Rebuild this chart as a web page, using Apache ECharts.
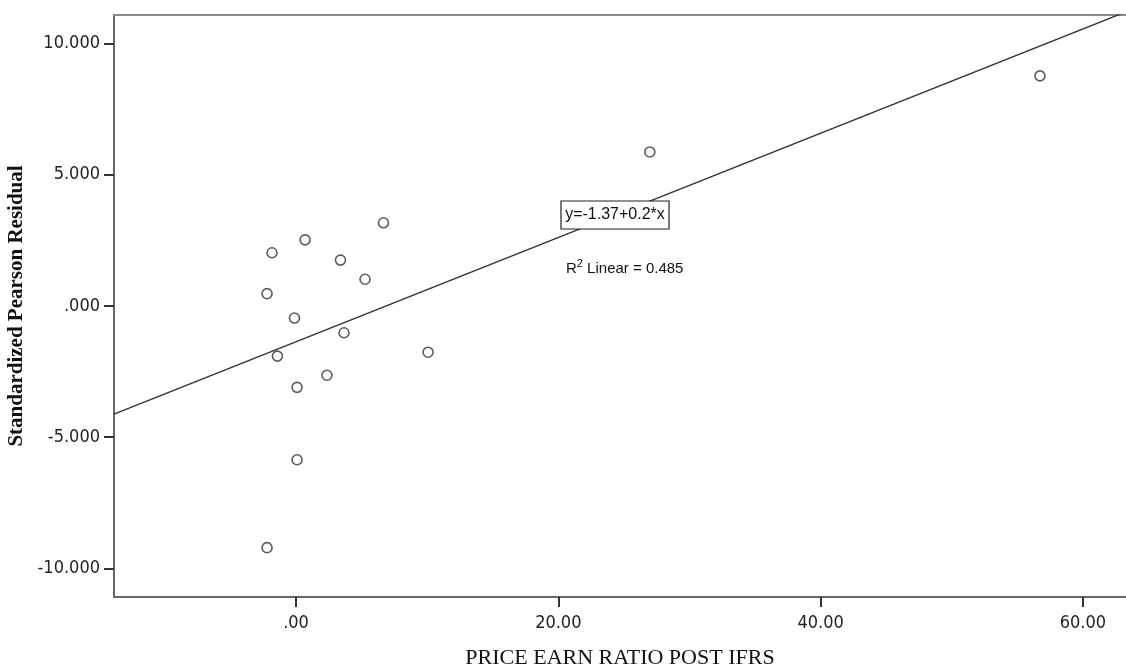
<!DOCTYPE html>
<html>
<head>
<meta charset="utf-8">
<script src="https://cdn.jsdelivr.net/npm/echarts@6/dist/echarts.min.js"></script>
<style>
html,body{margin:0;padding:0;background:#fff;}
#chart{width:1126px;height:665px;}
</style>
</head>
<body>
<div id="chart"></div>
<script>
// Data
var peRatio = [6.67, 0.69, -1.83, 3.39, 5.26, -2.21, -0.12, 3.66, -1.42, 10.07, 2.36, 0.08, 26.98, 56.73, 0.08, -2.21];
var residual = [3.17, 2.52, 2.03, 1.75, 1.02, 0.47, -0.46, -1.02, -1.91, -1.76, -2.64, -3.10, 5.87, 8.77, -5.86, -9.21];

var xTickValues = [0, 20, 40, 60];
var xTickLabels = ['.00', '20.00', '40.00', '60.00'];
var yTickValues = [-10, -5, 0, 5, 10];
var yTickLabels = ['-10.000', '-5.000', '.000', '5.000', '10.000'];

var xTitle = 'PRICE EARN RATIO POST IFRS';
var yTitle = 'Standardized Pearson Residual';
var fitLabel = 'y=-1.37+0.2*x';
var r2Label = '0.485';

var X_MIN = -13.88, X_MAX = 63.29;
var Y_MIN = -11.09, Y_MAX = 11.09;

// least squares fit from the points
var n = peRatio.length, mx = 0, my = 0;
for (var i = 0; i < n; i++) { mx += peRatio[i]; my += residual[i]; }
mx /= n; my /= n;
var sxy = 0, sxx = 0;
for (var i = 0; i < n; i++) { sxy += (peRatio[i]-mx)*(residual[i]-my); sxx += (peRatio[i]-mx)*(peRatio[i]-mx); }
var slope = sxy / sxx, intercept = my - slope * mx;
var fitLine = [[X_MIN, intercept + slope*X_MIN], [X_MAX, intercept + slope*X_MAX]];

var points = peRatio.map(function(x, i){ return [x, residual[i]]; });

var tickFont = "'Liberation Sans Narrow', 'Arial Narrow', 'DejaVu Sans Condensed', sans-serif";
var serifFont = "'Liberation Serif', 'Times New Roman', serif";

var chart = echarts.init(document.getElementById('chart'), null, {renderer: 'canvas'});
chart.setOption({
  animation: false,
  backgroundColor: '#ffffff',
  grid: {left: 114, right: 0, top: 15, bottom: 68, containLabel: false, outerBoundsMode: 'none'},
  xAxis: [{
    type: 'value', min: X_MIN, max: X_MAX, position: 'bottom',
    name: xTitle, nameLocation: 'middle', nameGap: 50,
    nameTextStyle: {fontFamily: serifFont, fontSize: 22, color: '#111'},
    axisLine: {show: true, onZero: false, lineStyle: {color: '#666', width: 2}},
    axisTick: {show: true, length: 10, customValues: xTickValues, lineStyle: {color: '#333', width: 2}},
    axisLabel: {show: true, customValues: xTickValues, margin: 17, fontFamily: tickFont, fontSize: 18, color: '#222',
      formatter: function(v){ var k = xTickValues.indexOf(v); return k >= 0 ? xTickLabels[k] : ''; }},
    splitLine: {show: false}
  }, {
    type: 'value', min: X_MIN, max: X_MAX, position: 'top',
    axisLine: {show: true, onZero: false, lineStyle: {color: '#8a8a8a', width: 2}},
    axisTick: {show: false}, axisLabel: {show: false}, splitLine: {show: false}
  }],
  yAxis: {
    type: 'value', min: Y_MIN, max: Y_MAX,
    name: yTitle, nameLocation: 'middle', nameGap: 75, nameRotate: 90,
    nameTextStyle: {fontFamily: serifFont, fontSize: 21, fontWeight: 'bold', color: '#111'},
    axisLine: {show: true, onZero: false, lineStyle: {color: '#666', width: 2}},
    axisTick: {show: true, length: 10, customValues: yTickValues, lineStyle: {color: '#333', width: 2}},
    axisLabel: {show: true, customValues: yTickValues, margin: 14, fontFamily: tickFont, fontSize: 18, color: '#222',
      formatter: function(v){ var k = yTickValues.indexOf(v); return k >= 0 ? yTickLabels[k] : ''; }},
    splitLine: {show: false}
  },
  series: [{
    type: 'line', data: fitLine, xAxisIndex: 0, clip: true,
    symbol: 'none', lineStyle: {color: '#333', width: 1.4}, z: 2
  }, {
    type: 'scatter', data: points, xAxisIndex: 0,
    symbol: 'circle', symbolSize: 10,
    itemStyle: {color: '#ffffff', borderColor: '#333', borderWidth: 1.6}, z: 3
  }],
  graphic: [{
    type: 'rect', shape: {x: 561, y: 201, width: 108, height: 28},
    style: {fill: '#fff', stroke: '#222', lineWidth: 1.2}, z: 10
  }, {
    type: 'text', x: 615, y: 215,
    style: {text: fitLabel, font: "16px 'Liberation Sans', Arial, sans-serif", fill: '#111', align: 'center', verticalAlign: 'middle'}, z: 11
  }, {
    type: 'text', x: 566, y: 267,
    style: {
      text: '{a|R}{s|2}{a| Linear = ' + r2Label + '}',
      rich: {
        a: {font: "15px 'Liberation Sans', Arial, sans-serif", fill: '#111', verticalAlign: 'bottom', lineHeight: 18},
        s: {font: "11px 'Liberation Sans', Arial, sans-serif", fill: '#111', verticalAlign: 'top', lineHeight: 18, padding: [0, 0, 7, 0]}
      },
      verticalAlign: 'middle', align: 'left'
    }, z: 11
  }]
});
</script>
</body>
</html>
